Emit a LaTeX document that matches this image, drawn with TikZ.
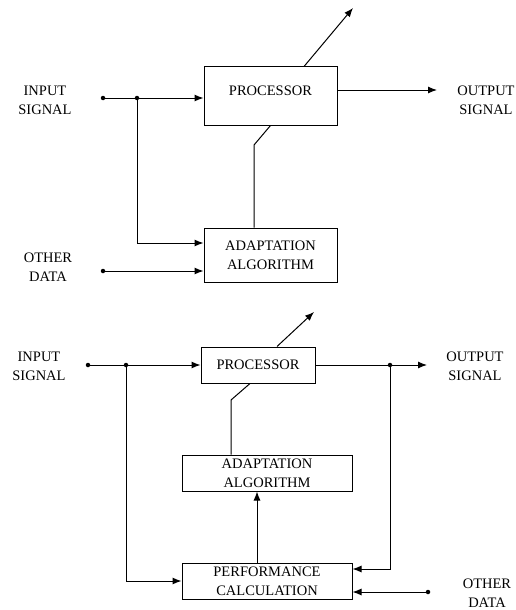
\documentclass[tikz,border=0pt]{standalone}
\usepackage{fontspec}
\setmainfont{Liberation Serif}
\usetikzlibrary{arrows.meta}
\tikzset{
  blockbox/.style={draw, line width=1pt, align=center, inner sep=0pt},
  jdot/.style={circle, fill, inner sep=0pt, minimum size=4.5pt},
  sig/.style={line width=1pt},
  sigarrow/.style={sig, -{Latex[length=9pt,width=7pt]}},
  lbl/.style={align=center, inner sep=0pt}
}

\begin{document}
\begin{tikzpicture}[x=1pt, y=-1pt, font=\fontsize{14.5}{19}\selectfont]
\useasboundingbox (0,0) rectangle (515,610);
% upper diagram
\node[blockbox, minimum width=133pt, minimum height=58pt, text height=11pt, text depth=13pt] (proc1) at (270.5,96) {PROCESSOR};
\node[blockbox, minimum width=133pt, minimum height=54pt] (adapt1) at (270.5,255) {ADAPTATION\\ALGORITHM};
\node[jdot] (in1) at (103,98) {};
\node[jdot] (j1) at (137,98) {};
\node[jdot] (od1) at (103,271) {};
\coordinate (tilt1) at (353,8);
\coordinate (out1) at (437,90);
\coordinate (bend1) at (254,145);
\node[lbl] (inlbl1) at (45,100) {INPUT\\SIGNAL};
\node[lbl] (outlbl1) at (486,100) {OUTPUT\\SIGNAL};
\node[lbl] (odlbl1) at (48,267) {OTHER\\DATA};

\draw[sigarrow] (in1) -- (in1 -| proc1.west);
\draw[sigarrow] (j1) |- ([yshift=12pt]adapt1.west);
\draw[sigarrow] (od1) -- (od1 -| adapt1.west);
\draw[sigarrow] (proc1.east |- out1) -- (out1);
\draw[sigarrow] ([xshift=33.5pt]proc1.north) -- (tilt1);
\draw[sig] (adapt1.north -| bend1) -- (bend1) -- (proc1.south);

% lower diagram
\node[blockbox, minimum width=114pt, minimum height=36pt] (proc2) at (258,365) {PROCESSOR};
\node[blockbox, minimum width=170pt, minimum height=36pt] (adapt2) at (267,473) {ADAPTATION\\ALGORITHM};
\node[blockbox, minimum width=170pt, minimum height=36pt] (perf2) at (267,581) {PERFORMANCE\\CALCULATION};
\node[jdot] (in2) at (88,365) {};
\node[jdot] (j2) at (126,365) {};
\node[jdot] (jo2) at (390,365) {};
\node[jdot] (od2) at (428,592) {};
\coordinate (tilt2) at (314,312);
\coordinate (out2) at (427,365);
\coordinate (bend2) at (231,400);
\node[lbl] (inlbl2) at (39,366) {INPUT\\SIGNAL};
\node[lbl] (outlbl2) at (475,366) {OUTPUT\\SIGNAL};
\node[lbl] (odlbl2) at (487,593) {OTHER\\DATA};

\draw[sigarrow] (in2) -- (in2 -| proc2.west);
\draw[sig] (proc2.east) -- (jo2);
\draw[sigarrow] (jo2) -- (out2);
\draw[sigarrow] ([xshift=19pt]proc2.north) -- (tilt2);
\draw[sig] (adapt2.north -| bend2) -- (bend2) -- ([xshift=-8pt]proc2.south);
\draw[sigarrow] ([xshift=-10pt]perf2.north) -- ([xshift=-10pt]adapt2.south);
\draw[sigarrow] (j2) |- (perf2.west);
\draw[sigarrow] (jo2) |- ([yshift=12pt]perf2.east);
\draw[sigarrow] (od2) -- (od2 -| perf2.east);
\end{tikzpicture}
\end{document}
